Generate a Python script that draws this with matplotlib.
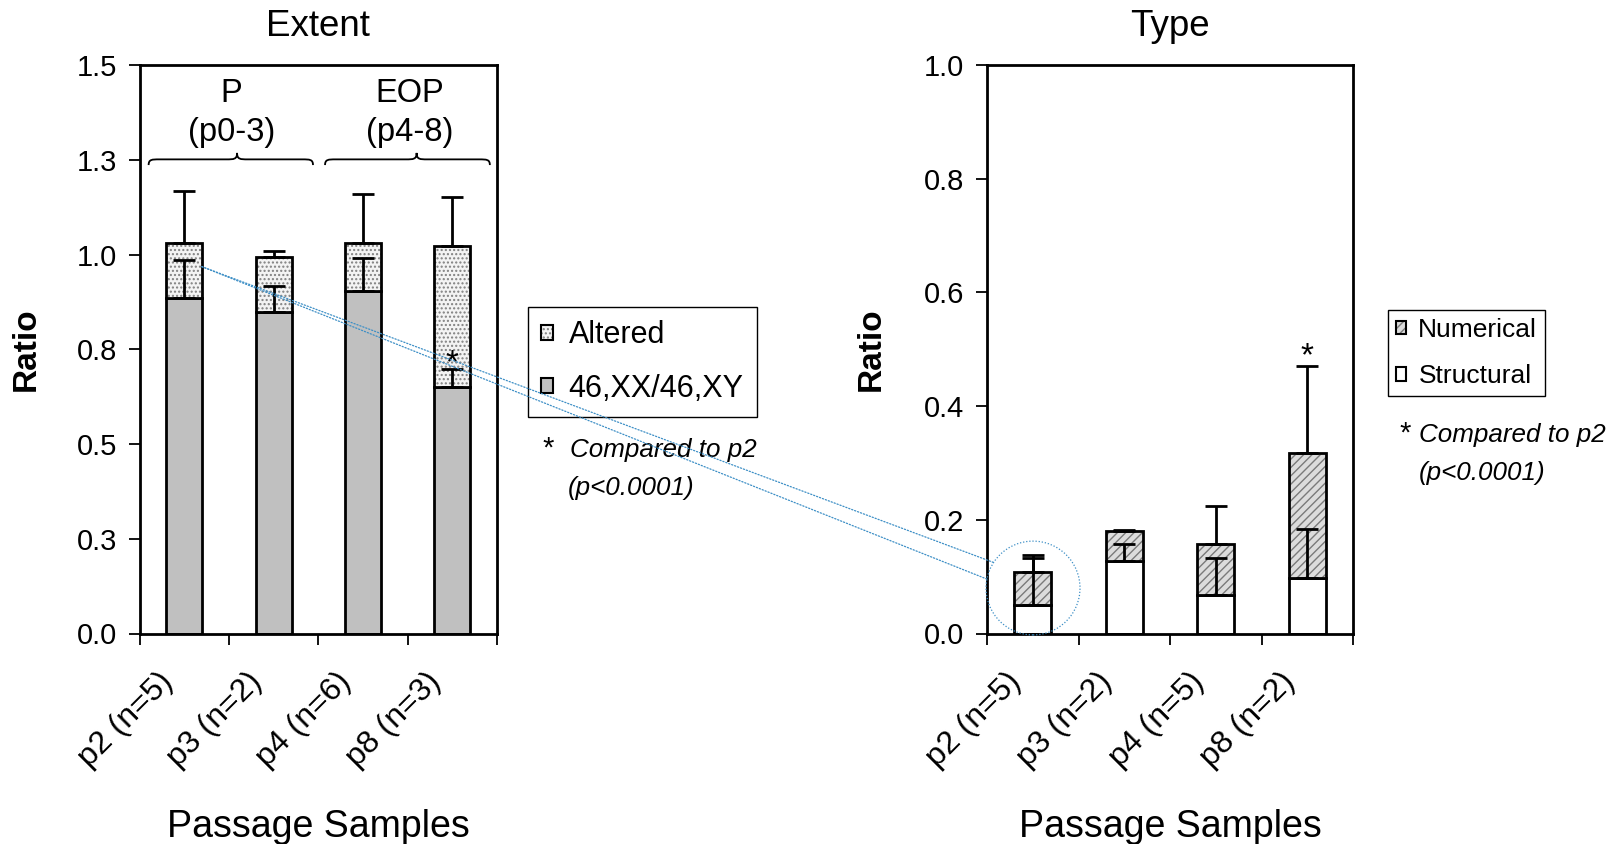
import numpy as np
import matplotlib
matplotlib.use("Agg")
import matplotlib.pyplot as plt
from matplotlib.patches import Patch, Ellipse, ConnectionPatch, PathPatch
from matplotlib.path import Path
from matplotlib.legend_handler import HandlerTuple
from matplotlib.transforms import ScaledTranslation

plt.rcParams['font.family'] = ['Liberation Sans', 'DejaVu Sans']
plt.rcParams['hatch.linewidth'] = 1.0

# ---------------- data ----------------
extent_labels = ['p2 (n=5)', 'p3 (n=2)', 'p4 (n=6)', 'p8 (n=3)']
normal_vals = [0.885, 0.848, 0.903, 0.650]      # 46,XX/46,XY
altered_vals = [0.145, 0.145, 0.127, 0.372]     # Altered (stacked)
normal_err = [0.100, 0.069, 0.089, 0.049]
altered_err = [0.137, 0.015, 0.129, 0.130]
extent_yticks = [0.0, 0.25, 0.5, 0.75, 1.0, 1.25, 1.5]
extent_yticklabels = ['0.0', '0.3', '0.5', '0.8', '1.0', '1.3', '1.5']

type_labels = ['p2 (n=5)', 'p3 (n=2)', 'p4 (n=5)', 'p8 (n=2)']
structural_vals = [0.050, 0.128, 0.067, 0.097]
numerical_vals = [0.0575, 0.052, 0.0905, 0.220]
structural_err = [0.083, 0.030, 0.066, 0.086]
numerical_err = [0.0305, 0.002, 0.067, 0.154]
type_yticks = [0.0, 0.2, 0.4, 0.6, 0.8, 1.0]
type_yticklabels = ['0.0', '0.2', '0.4', '0.6', '0.8', '1.0']

groups = ['P\n(p0-3)', 'EOP\n(p4-8)']
group_span = [(-0.40, 1.44), (1.575, 3.42)]
group_tip = [0.59, 2.60]
group_text_x = [0.53, 2.52]

# ---------------- styling ----------------
W, H = 1623, 844
fig = plt.figure(figsize=(W / 100, H / 100), dpi=100)

ax1 = fig.add_axes([139.7 / W, 1 - 633.5 / H, (497 - 139.7) / W, (633.5 - 65) / H])
ax2 = fig.add_axes([987 / W, 1 - 633.5 / H, (1353 - 987) / W, (633.5 - 65) / H])

BW = 0.4
LW = 2.0
GRAY = '#c0c0c0'
BLUE = '#3d8fc6'


def style_axes(ax, labels, yticks, yticklabels, ylim, title):
    x = np.arange(len(labels))
    ax.set_xlim(-0.5, len(labels) - 0.5)
    ax.set_ylim(*ylim)
    for s in ax.spines.values():
        s.set_linewidth(LW)
    ax.set_yticks(yticks)
    ax.set_yticklabels(yticklabels, fontsize=21)
    ax.tick_params(axis='y', direction='out', length=8, width=1.3, pad=8.5)
    ax.set_xticks(x)
    ax.set_xticklabels(labels, fontsize=23, rotation=45, ha='right', va='top',
                       rotation_mode='anchor')
    ax.tick_params(axis='x', which='major', length=0, pad=24)
    ax.set_xticks(np.arange(-0.5, len(labels), 1.0), minor=True)
    ax.tick_params(axis='x', which='minor', direction='out', length=8, width=1.3)
    off = ScaledTranslation(-27 / 100, 0, fig.dpi_scale_trans)
    for lab in ax.get_xticklabels():
        lab.set_transform(lab.get_transform() + off)
    ax.set_title(title, fontsize=26.5, pad=21)
    ax.set_xlabel('Passage Samples', fontsize=27)
    ax.xaxis.label.set_verticalalignment('baseline')
    ax.xaxis.set_label_coords(0.5, (633.5 - 837) / 568.5)
    ax.set_ylabel('Ratio', fontsize=24, fontweight='bold')
    ax.yaxis.set_label_coords(-0.275, 0.5)
    return x


# ---------------- Extent ----------------
x1 = style_axes(ax1, extent_labels, extent_yticks, extent_yticklabels, (0, 1.5), 'Extent')
normal = np.array(normal_vals)
altered = np.array(altered_vals)
ax1.bar(x1, normal, BW, color=GRAY, edgecolor='black', linewidth=LW, zorder=2)
ax1.bar(x1, altered, BW, bottom=normal, color='#f3f3f3', edgecolor='#808080',
        hatch='....', linewidth=0, zorder=2)
ax1.bar(x1, altered, BW, bottom=normal, fill=False, edgecolor='black', linewidth=LW, zorder=3)
ax1.errorbar(x1, normal, yerr=[np.zeros(4), normal_err], fmt='none', ecolor='black',
             elinewidth=LW, capsize=8, capthick=LW, zorder=4)
ax1.errorbar(x1, normal + altered, yerr=[np.zeros(4), altered_err], fmt='none', ecolor='black',
             elinewidth=LW, capsize=8, capthick=LW, zorder=4)
ax1.text(x1[3], normal[3] + normal_err[3] - 0.027, '*', ha='center', va='bottom', fontsize=24)


def brace(ax, x0, x1_, xm, y_end, y_flat, y_tip):
    d = 0.12
    verts = [(x0, y_end), (x0, y_flat), (x0 + d * 0.3, y_flat), (x0 + d, y_flat),
             (xm - d, y_flat),
             (xm - d * 0.3, y_flat), (xm, y_flat), (xm, y_tip),
             (xm, y_flat), (xm + d * 0.3, y_flat), (xm + d, y_flat),
             (x1_ - d, y_flat),
             (x1_ - d * 0.3, y_flat), (x1_, y_flat), (x1_, y_end)]
    codes = [Path.MOVETO, Path.CURVE4, Path.CURVE4, Path.CURVE4,
             Path.LINETO,
             Path.CURVE4, Path.CURVE4, Path.CURVE4,
             Path.CURVE4, Path.CURVE4, Path.CURVE4,
             Path.LINETO,
             Path.CURVE4, Path.CURVE4, Path.CURVE4]
    ax.add_patch(PathPatch(Path(verts, codes), fill=False, lw=1.3, edgecolor='black',
                           clip_on=False))


for g, (a, b), m, tx in zip(groups, group_span, group_tip, group_text_x):
    brace(ax1, a, b, m, 1.236, 1.251, 1.268)
    top, bot = g.split('\n')
    ax1.text(tx, 1.403, top, ha='center', va='baseline', fontsize=23.5)
    ax1.text(tx, 1.300, bot, ha='center', va='baseline', fontsize=23.5)

# ---------------- Type ----------------
x2 = style_axes(ax2, type_labels, type_yticks, type_yticklabels, (0, 1.0), 'Type')
struct = np.array(structural_vals)
numer = np.array(numerical_vals)
ax2.bar(x2, struct, BW, color='white', edgecolor='black', linewidth=LW, zorder=2)
ax2.bar(x2, numer, BW, bottom=struct, color='#dcdcdc', edgecolor='#7a7a7a',
        hatch='////', linewidth=0, zorder=2)
ax2.bar(x2, numer, BW, bottom=struct, fill=False, edgecolor='black', linewidth=LW, zorder=3)
ax2.errorbar(x2, struct, yerr=[np.zeros(4), structural_err], fmt='none', ecolor='black',
             elinewidth=LW, capsize=8, capthick=LW, zorder=4)
ax2.errorbar(x2, struct + numer, yerr=[np.zeros(4), numerical_err], fmt='none', ecolor='black',
             elinewidth=LW, capsize=8, capthick=LW, zorder=4)
ax2.text(x2[3], struct[3] + numer[3] + numerical_err[3] - 0.012, '*', ha='center',
         va='bottom', fontsize=24)

# ---------------- legends ----------------
h_alt = (Patch(facecolor='#f3f3f3', edgecolor='#808080', hatch='....', linewidth=0),
         Patch(facecolor='none', edgecolor='black', linewidth=1.5))
h_norm = Patch(facecolor=GRAY, edgecolor='black', linewidth=1.5)
leg1 = fig.legend([h_alt, h_norm], ['Altered', '46,XX/46,XY'],
                  handler_map={tuple: HandlerTuple(ndivide=1, pad=0)},
                  loc='upper left', bbox_to_anchor=(528 / W, 1 - 307 / H),
                  bbox_transform=fig.transFigure, borderaxespad=0, fontsize=22,
                  handlelength=0.4, handleheight=0.4, handletextpad=0.5,
                  labelspacing=0.77, borderpad=0.43, fancybox=False, framealpha=1,
                  edgecolor='black')
leg1.get_frame().set_linewidth(1.0)

h_num = (Patch(facecolor='#dcdcdc', edgecolor='#7a7a7a', hatch='////', linewidth=0),
         Patch(facecolor='none', edgecolor='black', linewidth=1.5))
h_str = Patch(facecolor='white', edgecolor='black', linewidth=1.5)
leg2 = fig.legend([h_num, h_str], ['Numerical', 'Structural'],
                  handler_map={tuple: HandlerTuple(ndivide=1, pad=0)},
                  loc='upper left', bbox_to_anchor=(1388 / W, 1 - 310 / H),
                  bbox_transform=fig.transFigure, borderaxespad=0, fontsize=19,
                  handlelength=0.4, handleheight=0.4, handletextpad=0.45,
                  labelspacing=0.85, borderpad=0.3, fancybox=False, framealpha=1,
                  edgecolor='black')
leg2.get_frame().set_linewidth(1.0)

# significance notes
for (sx, tx, by1, px, by2) in [(548, 570, 457, 568, 495), (1405, 1419, 442, 1419, 480)]:
    fig.text(sx / W, 1 - by1 / H, '*', ha='center', va='baseline', fontsize=21)
    fig.text(tx / W, 1 - by1 / H, 'Compared to p2', ha='left', va='baseline',
             fontsize=18.7, style='italic')
    fig.text(px / W, 1 - by2 / H, '(p<0.0001)', ha='left', va='baseline',
             fontsize=18.7, style='italic')

# ---------------- zoom circle and connector lines ----------------
cx, cy, ew, eh = 0.003, 0.080, 1.027, 0.165
ax2.add_patch(Ellipse((cx, cy), ew, eh, fill=False, edgecolor=BLUE, linestyle=(0, (1, 1.5)),
                      lw=0.9, clip_on=False, zorder=6))
for ang in (147, 169):
    t = np.deg2rad(ang)
    ex, ey = cx + ew / 2 * np.cos(t), cy + eh / 2 * np.sin(t)
    con = ConnectionPatch(xyA=(0.195, 0.968), coordsA='data', axesA=ax1,
                          xyB=(ex, ey), coordsB='data', axesB=ax2,
                          color=BLUE, linestyle=(0, (1, 1.5)), lw=0.9, zorder=10)
    fig.add_artist(con)

fig.savefig('out.png', dpi=100)
